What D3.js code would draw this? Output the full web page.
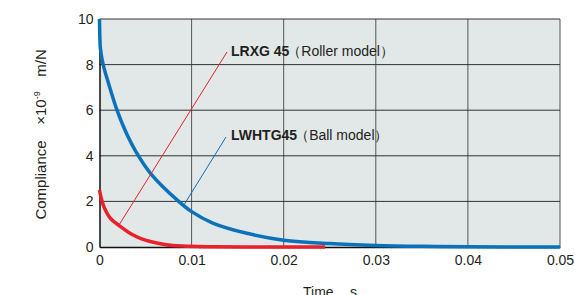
<!DOCTYPE html>
<html>
<head>
<meta charset="utf-8">
<script src="https://cdn.jsdelivr.net/npm/d3@7"></script>
<style>
  body { margin: 0; background: #fff; }
  text { font-family: "Liberation Sans", Arial, sans-serif; fill: #231f20; }
</style>
</head>
<body>
<div class="canvas"></div>
<script>
// data
const xTicks = [0, 0.01, 0.02, 0.03, 0.04, 0.05];
const yTicks = [0, 2, 4, 6, 8, 10];

const ballTime = [0, 0.00003, 0.0001, 0.0004, 0.001, 0.0019, 0.0028, 0.004, 0.0056, 0.0086, 0.01, 0.0123, 0.016, 0.02, 0.025, 0.03, 0.035, 0.04, 0.05];
const ballVal  = [10, 9.3, 8.7, 8.0, 7.15, 6.0, 5.1, 4.15, 3.2, 2.0, 1.55, 1.05, 0.6, 0.3, 0.15, 0.07, 0.03, 0.01, 0];

const rollerTime = [0, 0.0002, 0.00055, 0.0012, 0.0022, 0.0034, 0.0045, 0.0055, 0.0072, 0.009, 0.012, 0.016, 0.0245];
const rollerVal  = [2.5, 2.12, 1.7, 1.25, 0.92, 0.58, 0.37, 0.24, 0.1, 0.04, 0.01, 0, 0];

const W = 575, H = 295;
const m = {t:19, r:15, b:48, l:99.5};

const svg = d3.select('.canvas').append('svg')
  .attr('width', W).attr('height', H);

const x = d3.scaleLinear().domain([0, 0.05]).range([m.l, W - m.r]);
const y = d3.scaleLinear().domain([0, 10]).range([H - m.b, m.t]);

// background
svg.append('rect')
  .attr('x', x(0)).attr('y', y(10))
  .attr('width', x(0.05) - x(0)).attr('height', y(0) - y(10))
  .attr('fill', '#e2e7e7');

// grid
svg.append('g').selectAll('line').data(xTicks.slice(1)).enter()
  .append('line')
  .attr('x1', d => x(d)).attr('x2', d => x(d))
  .attr('y1', y(0)).attr('y2', y(10))
  .attr('stroke', '#555').attr('stroke-width', 1);

svg.append('g').selectAll('line').data(yTicks.slice(1)).enter()
  .append('line')
  .attr('x1', x(0)).attr('x2', x(0.05))
  .attr('y1', d => y(d)).attr('y2', d => y(d))
  .attr('stroke', '#333').attr('stroke-width', 1);

// axes
const xAxis = svg.append('g')
  .attr('transform', `translate(0,${y(0)})`)
  .call(d3.axisBottom(x).tickValues(xTicks).tickSize(0).tickPadding(8).tickFormat(d => d === 0 ? '0' : d3.format('.2f')(d)));
const yAxis = svg.append('g')
  .attr('transform', `translate(${x(0)},0)`)
  .call(d3.axisLeft(y).tickValues(yTicks).tickSize(0).tickPadding(6));
[xAxis, yAxis].forEach(a => {
  a.select('.domain').attr('stroke', '#111').attr('stroke-width', 1.5);
  a.selectAll('text').style('font-size', '14px').attr('fill', '#231f20')
    .style('font-family', '"Liberation Sans", Arial, sans-serif');
});

// curves
const line = d3.line().x(d => x(d[0])).y(d => y(d[1])).curve(d3.curveCatmullRom.alpha(0.5));
svg.append('path')
  .datum(ballTime.map((t, i) => [t, ballVal[i]]))
  .attr('d', line).attr('fill', 'none')
  .attr('stroke', '#0a72ba').attr('stroke-width', 3.5);
svg.append('path')
  .datum(rollerTime.map((t, i) => [t, rollerVal[i]]))
  .attr('d', line).attr('fill', 'none')
  .attr('stroke', '#e8212b').attr('stroke-width', 3.5);

// leader lines + labels
svg.append('line')
  .attr('x1', x(0.0021)).attr('y1', y(0.95))
  .attr('x2', 227).attr('y2', 52)
  .attr('stroke', '#e8212b').attr('stroke-width', 1);
svg.append('line')
  .attr('x1', x(0.0091)).attr('y1', y(1.8))
  .attr('x2', 226).attr('y2', 137)
  .attr('stroke', '#0a72ba').attr('stroke-width', 1);

const lab1 = svg.append('text').attr('x', 231).attr('y', 56).style('font-size', '14px');
lab1.append('tspan').text('LRXG 45').style('font-weight', 'bold');
lab1.append('tspan').text('（Roller model）').attr('dx', -2);
const lab2 = svg.append('text').attr('x', 231).attr('y', 140).style('font-size', '14px');
lab2.append('tspan').text('LWHTG45').style('font-weight', 'bold');
lab2.append('tspan').text('（Ball model）').attr('dx', -2);

// axis titles
const ytitle = (yc) => svg.append('text')
  .attr('transform', `translate(46,${yc}) rotate(-90)`)
  .attr('text-anchor', 'middle').style('font-size', '15px');
ytitle(180).text('Compliance');
const unit = ytitle(108);
unit.append('tspan').text('×10');
unit.append('tspan').text('-9').style('font-size', '9px').attr('dy', -6);
ytitle(63).text('m/N');

const xt = svg.append('text').attr('y', 297).style('font-size', '14px');
xt.append('tspan').attr('x', 303).text('Time');
xt.append('tspan').attr('x', 350).text('s');
</script>
</body>
</html>
